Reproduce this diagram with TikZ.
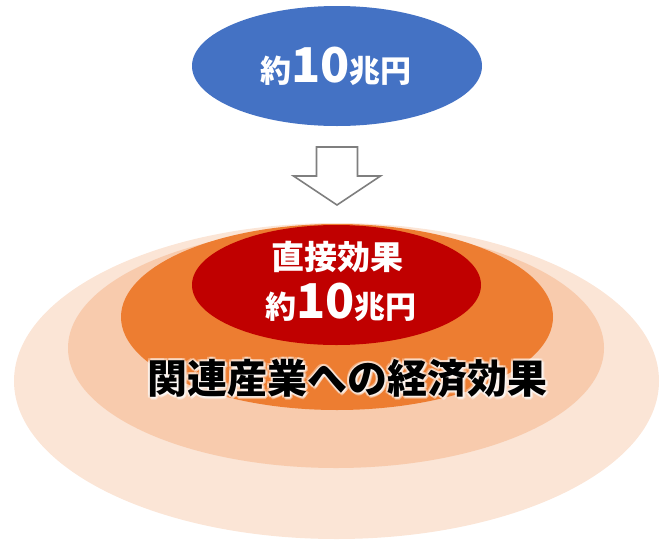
\documentclass[tikz,border=0pt]{standalone}
\usepackage{fontspec}
\usetikzlibrary{shapes.geometric,calc}
\newfontfamily\jpfont{Noto Sans CJK JP}
\definecolor{cblue}{HTML}{4472C4}
\definecolor{cred}{HTML}{C00000}
\definecolor{corange}{HTML}{ED7D31}
\definecolor{cpeach}{HTML}{F8CBAD}
\definecolor{clight}{HTML}{FBE5D6}
\definecolor{cgray}{HTML}{7F7F7F}
\tikzset{
  oval/.style={ellipse, inner sep=0pt, draw=none},
  wtext/.style={text=white, font=\jpfont\bfseries, inner sep=0pt},
  btext/.style={text=black, font=\jpfont\bfseries\fontsize{40}{40}\selectfont, inner sep=0pt},
  glow/.style={text=white, opacity=0.35, font=\jpfont\bfseries\fontsize{40}{40}\selectfont, inner sep=0pt},
  blockarrow/.style={draw=cgray, line width=1.6pt, fill=white, line join=miter}
}
\newcommand{\kj}[1]{{\fontsize{31}{31}\selectfont #1}}
\newcommand{\dg}[1]{{\fontsize{48}{48}\selectfont #1}}
\begin{document}
\begin{tikzpicture}[x=1pt,y=-1pt]
\useasboundingbox (0,0) rectangle (669,541);
% top ellipse
\node[oval, fill=cblue, minimum width=290pt, minimum height=120pt] (top) at (337,66) {};
\node[wtext] (toptxt) at (336,66) {\kj{約}\dg{10}\kj{兆円}};
% block arrow
\begin{scope}[shift={(337,176)}]
\coordinate (arr) at (0,0);
\draw[blockarrow] (-20.5,-29) -- (20.5,-29) -- (20.5,0) -- (43.5,0) -- (0,29) -- (-43.5,0) -- (-20.5,0) -- cycle;
\end{scope}
% nested ellipses
\node[oval, fill=clight, minimum width=645pt, minimum height=316pt] (e1) at (336.5,381) {};
\node[oval, fill=cpeach, minimum width=536pt, minimum height=240pt] (e2) at (336,348) {};
\node[oval, fill=corange, minimum width=432pt, minimum height=186pt] (e3) at (337,317) {};
\node[oval, fill=cred, minimum width=289pt, minimum height=120pt] (e4) at (336.5,285) {};
\node[wtext] (direct) at (337,257) {\fontsize{33}{33}\selectfont 直接効果};
\node[wtext] (amount) at (341,302) {\kj{約}\dg{10}\kj{兆円}};
% label with soft white glow
\foreach \dx/\dy in {-2/0,2/0,0/-2,0/2,-1.5/-1.5,1.5/1.5,-1.5/1.5,1.5/-1.5,2.5/2.5,3/1.5,1.5/3}{
  \node[glow] at ($(347+\dx,378+\dy)$) {関連産業への経済効果};
}
\node[btext] (rel) at (347,378) {関連産業への経済効果};
\end{tikzpicture}
\end{document}
